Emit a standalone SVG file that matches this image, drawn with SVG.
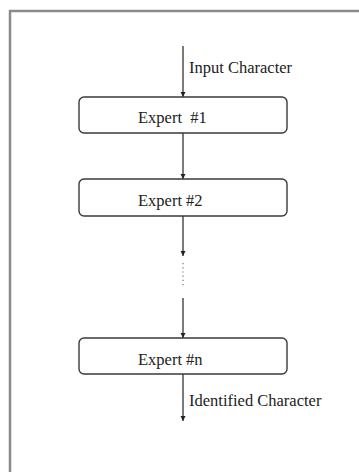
<svg xmlns="http://www.w3.org/2000/svg" width="359" height="472" viewBox="0 0 359 472">
  <style>
    .frame { fill: none; stroke: #8a8a8a; stroke-width: 2.5; }
    .box { fill: #ffffff; stroke: #3a3a3a; stroke-width: 1.4; }
    .flow { fill: none; stroke: #333333; stroke-width: 1.3; }
    .dots { fill: none; stroke: #777777; stroke-width: 1.2; stroke-dasharray: 1.2 3; }
    .lbl { font-family: "Liberation Serif", "Times New Roman", serif; font-size: 16.5px; fill: #222222; }
  </style>
  <defs>
    <marker id="arrow" markerWidth="6" markerHeight="6" refX="5" refY="3" orient="auto" markerUnits="userSpaceOnUse">
      <path d="M0,0.5 L5,3 L0,5.5 Z" fill="#222222"/>
    </marker>
  </defs>

  <!-- outer frame: only top and left edges -->
  <path class="frame" d="M10,472 L10,11 L359,11"/>

  <g id="connectors">
    <line class="flow" x1="183" y1="46" x2="183" y2="97" marker-end="url(#arrow)"/>
    <line class="flow" x1="183" y1="133" x2="183" y2="179" marker-end="url(#arrow)"/>
    <line class="flow" x1="183" y1="216" x2="183" y2="256" marker-end="url(#arrow)"/>
    <line class="dots" x1="183" y1="263" x2="183" y2="286"/>
    <line class="flow" x1="183" y1="298" x2="183" y2="338" marker-end="url(#arrow)"/>
    <line class="flow" x1="183" y1="374" x2="183" y2="421" marker-end="url(#arrow)"/>
    <text class="lbl" x="189" y="73">Input Character</text>
    <text class="lbl" x="189" y="406">Identified Character</text>
  </g>

  <g id="expert1">
    <rect class="box" x="79" y="97" width="208" height="36" rx="5"/>
    <text class="lbl" x="138" y="123" xml:space="preserve">Expert  #1</text>
  </g>
  <g id="expert2">
    <rect class="box" x="79" y="179" width="208" height="37" rx="5"/>
    <text class="lbl" x="138" y="206">Expert #2</text>
  </g>
  <g id="expertn">
    <rect class="box" x="79" y="338" width="208" height="36" rx="5"/>
    <text class="lbl" x="138" y="365">Expert #n</text>
  </g>
</svg>
